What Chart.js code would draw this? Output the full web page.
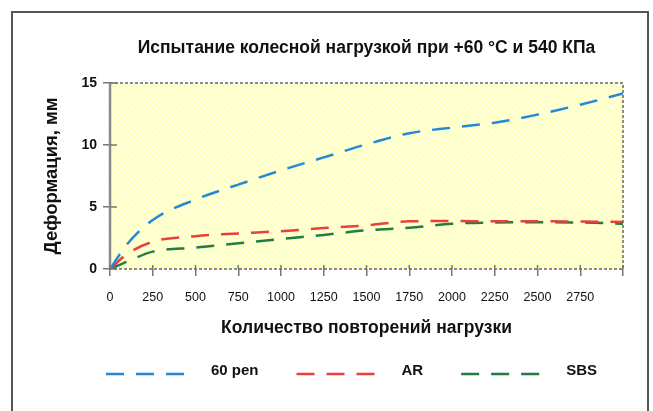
<!DOCTYPE html>
<html>
<head>
<meta charset="utf-8">
<script src="https://cdn.jsdelivr.net/npm/chart.js@4.4.1/dist/chart.umd.min.js"></script>
<style>
  html, body { margin: 0; padding: 0; background: #fff; overflow: hidden; }
  #frame { position: absolute; left: 11px; top: 11px; width: 638px; height: 500px; border: 2px solid #555; box-sizing: border-box; }
  #wrap { position: absolute; left: 0; top: 0; width: 653px; height: 411px; }
</style>
</head>
<body>
<div id="frame"></div>
<div id="wrap"><canvas id="chart"></canvas></div>
<script>
// number of load repetitions
const cycles = [0, 100, 250, 500, 750, 1000, 1250, 1500, 1750, 2000, 2250, 2500, 2750, 3000];
// deformation, mm
const pen60 = [0, 2.0, 3.95, 5.6, 6.8, 7.95, 9.0, 10.05, 10.95, 11.4, 11.8, 12.45, 13.25, 14.15];
const ar = [0, 1.2, 2.2, 2.65, 2.87, 3.05, 3.3, 3.52, 3.85, 3.87, 3.85, 3.85, 3.83, 3.8];
const sbs = [0, 0.6, 1.4, 1.72, 2.07, 2.42, 2.75, 3.12, 3.33, 3.65, 3.75, 3.77, 3.75, 3.65];

const seriesNames = ['60 pen', 'AR', 'SBS'];
const seriesColors = ['#2389d6', '#e8413c', '#1f7d45'];
const xTickLabels = ['0', '250', '500', '750', '1000', '1250', '1500', '1750', '2000', '2250', '2500', '2750'];
const yTicks = [0, 5, 10, 15];

const toPoints = arr => cycles.map((x, i) => ({ x: x, y: arr[i] }));

// yellow plot background, dotted frame and ticks that cross the axes
const plotFrame = {
    id: 'plotFrame',
    beforeDraw(chart) {
        const { ctx, chartArea: a } = chart;
        const pc = document.createElement('canvas');
        pc.width = 6; pc.height = 6;
        const p = pc.getContext('2d');
        p.fillStyle = '#ffffbe';
        p.fillRect(0, 0, 6, 6);
        p.strokeStyle = '#fffff0';
        p.lineWidth = 1;
        p.beginPath();
        p.moveTo(0, 0); p.lineTo(6, 6);
        p.moveTo(6, 0); p.lineTo(0, 6);
        p.stroke();
        ctx.save();
        ctx.fillStyle = ctx.createPattern(pc, 'repeat');
        ctx.fillRect(a.left, a.top, a.right - a.left, a.bottom - a.top);
        ctx.restore();
    },
    afterDatasetsDraw(chart) {
        const { ctx, chartArea: a, scales } = chart;
        ctx.save();
        ctx.strokeStyle = '#666';
        ctx.lineWidth = 1.5;
        ctx.setLineDash([3, 2]);
        ctx.beginPath();
        ctx.moveTo(a.left, a.top); ctx.lineTo(a.right, a.top); ctx.lineTo(a.right, a.bottom); ctx.lineTo(a.left, a.bottom);
        ctx.stroke();
        ctx.setLineDash([]);
        ctx.strokeStyle = '#8a8a8a';
        ctx.lineWidth = 2.5;
        ctx.beginPath();
        ctx.moveTo(a.left, a.top); ctx.lineTo(a.left, a.bottom);
        ctx.stroke();
        ctx.strokeStyle = '#777';
        ctx.lineWidth = 1.5;
        ctx.beginPath();
        scales.x.ticks.forEach(t => {
            const x = scales.x.getPixelForValue(t.value);
            ctx.moveTo(x, a.bottom - 4); ctx.lineTo(x, a.bottom);
        });
        scales.y.ticks.forEach(t => {
            const y = scales.y.getPixelForValue(t.value);
            ctx.moveTo(a.left, y); ctx.lineTo(a.left + 7, y);
        });
        ctx.stroke();
        ctx.restore();
    },
    afterDraw(chart) {
        // legend: dashed sample then name
        const { ctx, chartArea: a } = chart;
        ctx.save();
        ctx.font = 'bold 15px "Liberation Sans"';
        ctx.textBaseline = 'middle';
        ctx.fillStyle = '#111';
        let x = a.left - 4;
        chart.data.datasets.forEach(ds => {
            ctx.strokeStyle = ds.borderColor;
            ctx.lineWidth = 2.5;
            ctx.setLineDash([18, 12]);
            ctx.beginPath();
            ctx.moveTo(x, 374); ctx.lineTo(x + 78, 374);
            ctx.stroke();
            ctx.fillText(ds.label, x + 105, 371);
            x += 105 + ctx.measureText(ds.label).width + 38;
        });
        ctx.restore();
    }
};

const datasets = [pen60, ar, sbs].map((arr, i) => ({
    label: seriesNames[i],
    data: toPoints(arr),
    borderColor: seriesColors[i],
    borderWidth: 2.5,
    borderDash: [18, 12],
    pointRadius: 0,
    cubicInterpolationMode: 'monotone',
    fill: false
}));

new Chart(document.getElementById('chart'), {
    type: 'line',
    data: { datasets },
    plugins: [plotFrame],
    options: {
        responsive: true,
        maintainAspectRatio: false,
        animation: false,
        layout: { padding: { left: 0, right: 30, top: 0, bottom: 72 } },
        plugins: {
            legend: { display: false },
            tooltip: { enabled: false },
            title: {
                display: true,
                fullSize: false,
                text: 'Испытание колесной нагрузкой при +60 °C и 540 КПа',
                color: '#111',
                font: { family: 'Liberation Sans', size: 17.5, weight: 'bold' },
                padding: { top: 38, bottom: 24 }
            }
        },
        scales: {
            x: {
                type: 'linear',
                min: 0,
                max: 3000,
                afterFit(scale) { scale.height = 70; },
                ticks: {
                    stepSize: 250,
                    autoSkip: false,
                    maxRotation: 0,
                    padding: 14,
                    color: '#111',
                    font: { family: 'Liberation Sans', size: 12.5 },
                    callback: (v, i) => xTickLabels[i] ?? ''
                },
                grid: { drawOnChartArea: false, tickLength: 7, color: '#777', lineWidth: 1.5 },
                border: { display: false },
                title: {
                    display: true,
                    text: 'Количество повторений нагрузки',
                    color: '#111',
                    font: { family: 'Liberation Sans', size: 17.5, weight: 'bold' },
                    padding: { top: 0, bottom: 0 }
                }
            },
            y: {
                min: 0,
                max: 15,
                afterFit(scale) { scale.width = 110; },
                afterBuildTicks(scale) { scale.ticks = yTicks.map(v => ({ value: v })); },
                ticks: {
                    padding: 6,
                    color: '#111',
                    font: { family: 'Liberation Sans', size: 14, weight: 'bold' }
                },
                grid: { drawOnChartArea: false, tickLength: 7, color: '#777', lineWidth: 1.5 },
                border: { display: false },
                title: {
                    display: true,
                    text: 'Деформация, мм',
                    color: '#111',
                    font: { family: 'Liberation Sans', size: 18.5, weight: 'bold' },
                    padding: { top: 41, bottom: 0 }
                }
            }
        }
    }
});
</script>
</body>
</html>
